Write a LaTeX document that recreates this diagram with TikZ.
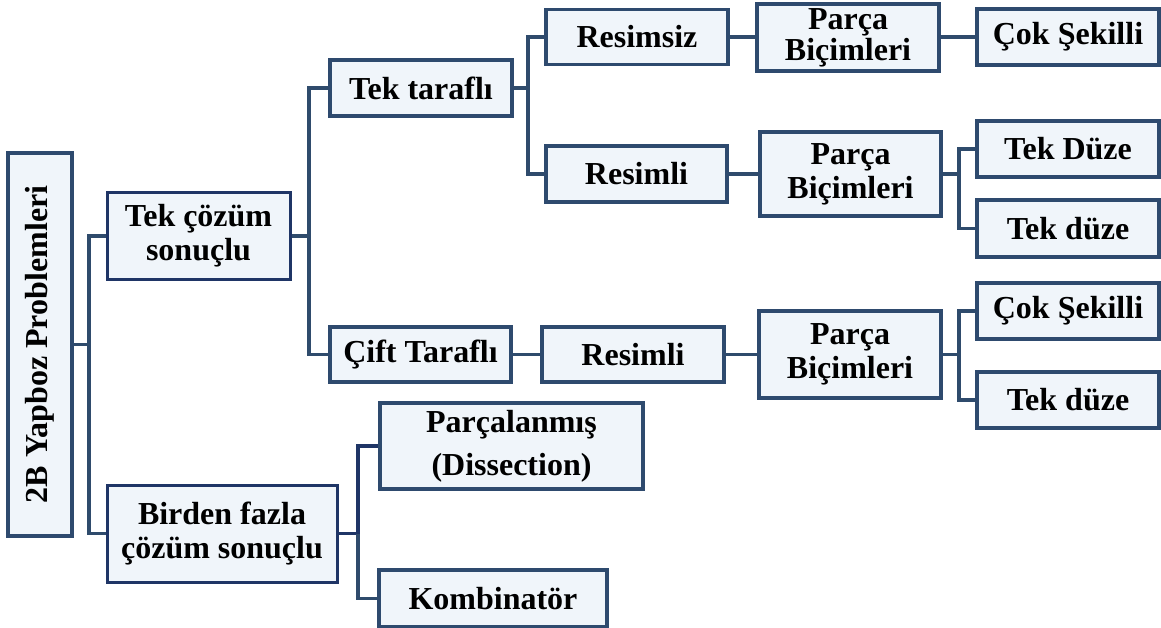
\documentclass[tikz,border=0pt]{standalone}
\usepackage{fontspec}
\setmainfont{Liberation Serif}
\usetikzlibrary{backgrounds}
\definecolor{boxfill}{HTML}{F0F5FA}
\definecolor{boxline}{HTML}{2E4A6E}
\definecolor{navyline}{HTML}{1F3566}
\definecolor{linkline}{HTML}{2F4B6C}
\begin{document}
\begin{tikzpicture}[x=1pt,y=-1pt,
  box/.style={draw=boxline, fill=boxfill, line width=3.4pt, rectangle,
    inner sep=0pt, align=center, font=\fontsize{32}{34}\selectfont\bfseries},
  tightbox/.style={box, font=\fontsize{32}{31}\selectfont\bfseries},
  loosebox/.style={box, font=\fontsize{32}{43}\selectfont\bfseries},
  navybox/.style={box, draw=navyline, line width=3pt},
  link/.style={draw=linkline, line width=3.6pt, line join=miter},
  navylink/.style={draw=navyline, line width=3.6pt}]
\useasboundingbox (0,0) rectangle (1161,628);

% boxes: centre, width, height
\node[box, minimum width=64pt, minimum height=383pt] (root) at (40,344.5)
  {\rotatebox{90}{2B Yapboz Problemleri}};
\node[navybox, minimum width=183pt, minimum height=86pt] (tekcoz) at (198.5,236)
  {Tek çözüm\\sonuçlu};
\node[navybox, minimum width=230pt, minimum height=97pt] (birden) at (222,533.5)
  {Birden fazla\\çözüm sonuçlu};
\node[box, minimum width=182pt, minimum height=56pt] (tektar) at (421,88) {Tek taraflı};
\node[box, minimum width=181pt, minimum height=55pt] (cift) at (420.5,354.5) {Çift Taraflı};
\node[box, minimum width=182pt, minimum height=55pt] (resimsiz) at (637,37) {Resimsiz};
\node[box, minimum width=181pt, minimum height=56pt] (resimliA) at (636.5,174) {Resimli};
\node[box, minimum width=182pt, minimum height=55pt] (resimliB) at (633,354.5) {Resimli};
\node[tightbox, minimum width=182pt, minimum height=67pt] (parcaA) at (848,37.5) {Parça\\Biçimleri};
\node[box, minimum width=181pt, minimum height=84pt] (parcaB) at (850.5,174) {Parça\\Biçimleri};
\node[box, minimum width=182pt, minimum height=87pt] (parcaC) at (850,354.5) {Parça\\Biçimleri};
\node[box, minimum width=182pt, minimum height=56pt] (cokA) at (1068,37) {Çok Şekilli};
\node[box, minimum width=182pt, minimum height=56pt] (tekDuzeA) at (1068,149) {Tek Düze};
\node[box, minimum width=182pt, minimum height=57pt] (tekduzeB) at (1068,228.5) {Tek düze};
\node[box, minimum width=182pt, minimum height=56pt] (cokB) at (1068,311) {Çok Şekilli};
\node[box, minimum width=182pt, minimum height=56pt] (tekduzeC) at (1068,400) {Tek düze};
\node[loosebox, minimum width=263pt, minimum height=86pt] (parcalan) at (511.5,446)
  {Parçalanmış\\(Dissection)};
\node[box, minimum width=228pt, minimum height=57pt] (kombi) at (493,598.5) {Kombinatör};

% trunk positions of the elbow connectors
\coordinate (tA) at (89,0);
\coordinate (tB) at (309,0);
\coordinate (tC) at (528,0);
\coordinate (tD) at (959,0);
\coordinate (tE) at (959,0);
\coordinate (tF) at (358,0);

\begin{scope}[on background layer]
% root level
\draw[link] (root.east) -- (root.east -| tA) |- (tekcoz.west);
\draw[link] (root.east -| tA) |- (birden.west);
% single solution
\draw[link] (tekcoz.east) -- (tekcoz.east -| tB) |- (tektar.west);
\draw[link] (tekcoz.east -| tB) |- (cift.west);
% one sided
\draw[link] (tektar.east) -- (tektar.east -| tC) |- (resimsiz.west);
\draw[link] (tektar.east -| tC) |- (resimliA.west);
\draw[link] (resimsiz.east) -- (resimsiz.east -| parcaA.west);
\draw[link] (parcaA.east |- cokA.west) -- (cokA.west);
\draw[link] (resimliA.east) -- (resimliA.east -| parcaB.west);
\draw[link] (parcaB.east) -- (parcaB.east -| tD) |- (tekDuzeA.west);
\draw[link] (parcaB.east -| tD) |- (tekduzeB.west);
% two sided
\draw[link] (cift.east) -- (cift.east -| resimliB.west);
\draw[link] (resimliB.east) -- (resimliB.east -| parcaC.west);
\draw[link] (parcaC.east) -- (parcaC.east -| tE) |- (cokB.west);
\draw[link] (parcaC.east -| tE) |- (tekduzeC.west);
% multiple solutions
\draw[navylink] (birden.east) -- (birden.east -| tF) |- (parcalan.west);
\draw[link] (birden.east -| tF) |- (kombi.west);
\end{scope}
\end{tikzpicture}
\end{document}
